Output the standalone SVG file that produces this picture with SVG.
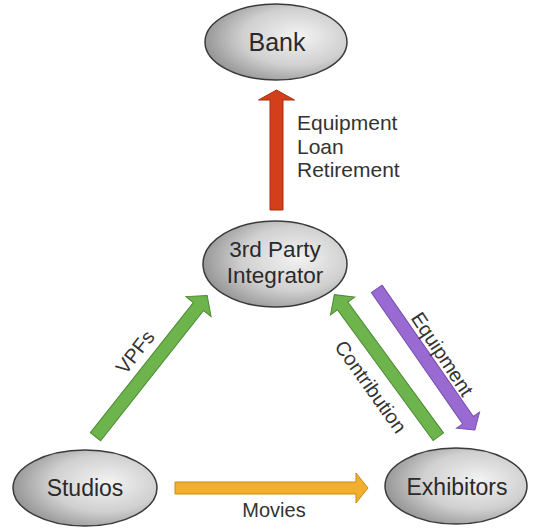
<svg xmlns="http://www.w3.org/2000/svg" width="536" height="530" viewBox="0 0 536 530">
  <defs>
    <radialGradient id="nodeFill" cx="0.62" cy="0.45" r="0.68" fx="0.66" fy="0.42">
      <stop offset="0" stop-color="#f3f3f3"/>
      <stop offset="0.55" stop-color="#d0d0d0"/>
      <stop offset="1" stop-color="#8a8a8a"/>
    </radialGradient>
  </defs>
  <style>
    .node { fill: url(#nodeFill); stroke: #3a3a3a; stroke-width: 1.5; }
    .ntext { font-family: "Liberation Sans", Arial, sans-serif; fill: #2a2a2a; text-anchor: middle; }
    .ltext { font-family: "Liberation Sans", Arial, sans-serif; fill: #333333; font-size: 20px; }
    .big { font-size: 21px; }
    .arrow { stroke-width: 1; stroke-linejoin: miter; }
    .red { fill: #d43f1b; stroke: #a8300f; }
    .green { fill: #6db44d; stroke: #4d8a34; }
    .purple { fill: #9a6ad3; stroke: #7650ad; }
    .orange { fill: #f1ae2f; stroke: #c98b12; }
  </style>
  <rect width="536" height="530" fill="#ffffff"/>

  <g id="connectors">
    <!-- Integrator -> Bank -->
    <g id="edge-loan">
      <polygon class="arrow red" transform="translate(276.5,210) rotate(-90)" points="0,-6.5 110,-6.5 110,-18 120,0 110,18 110,6.5 0,6.5"/>
      <text class="ltext big" x="297" y="130">Equipment</text>
      <text class="ltext big" x="297" y="153.5">Loan</text>
      <text class="ltext big" x="297" y="177">Retirement</text>
    </g>
    <!-- Studios -> Integrator -->
    <g id="edge-vpfs">
      <polygon class="arrow green" transform="translate(95.5,436.7) rotate(-51.65)" points="0,-6.5 166,-6.5 166,-16 180,0 166,16 166,6.5 0,6.5"/>
      <text class="ltext" text-anchor="middle" transform="translate(140.5,356.3) rotate(-52)">VPFs</text>
    </g>
    <!-- Exhibitors -> Integrator -->
    <g id="edge-contribution">
      <polygon class="arrow green" transform="translate(438.3,436.7) rotate(-126.2)" points="0,-6.5 162,-6.5 162,-15 176,0 162,15 162,6.5 0,6.5"/>
      <text class="ltext" text-anchor="middle" transform="translate(365.1,390.8) rotate(54.6)">Contribution</text>
    </g>
    <!-- Integrator -> Exhibitors -->
    <g id="edge-equipment">
      <polygon class="arrow purple" transform="translate(376.7,288.8) rotate(55.2)" points="0,-6.5 160,-6.5 160,-14 172,0 160,14 160,6.5 0,6.5"/>
      <text class="ltext" text-anchor="middle" transform="translate(436.6,357.9) rotate(56.6)">Equipment</text>
    </g>
    <!-- Studios -> Exhibitors -->
    <g id="edge-movies">
      <polygon class="arrow orange" transform="translate(175,488)" points="0,-6 181,-6 181,-15 193,0 181,15 181,6 0,6"/>
      <text class="ltext" text-anchor="middle" x="274" y="517">Movies</text>
    </g>
  </g>

  <g id="node-bank">
    <ellipse class="node" cx="276" cy="42" rx="71" ry="38"/>
    <text class="ntext" x="277" y="51" font-size="25">Bank</text>
  </g>
  <g id="node-integrator">
    <ellipse class="node" cx="275" cy="264" rx="72" ry="43"/>
    <text class="ntext" x="275" y="257" font-size="22.5">3rd Party</text>
    <text class="ntext" x="275" y="283" font-size="22.5">Integrator</text>
  </g>
  <g id="node-studios">
    <ellipse class="node" cx="85" cy="488" rx="72" ry="38"/>
    <text class="ntext" x="85" y="496" font-size="23">Studios</text>
  </g>
  <g id="node-exhibitors">
    <ellipse class="node" cx="456" cy="486" rx="71" ry="38"/>
    <text class="ntext" x="457" y="495" font-size="23">Exhibitors</text>
  </g>
</svg>
